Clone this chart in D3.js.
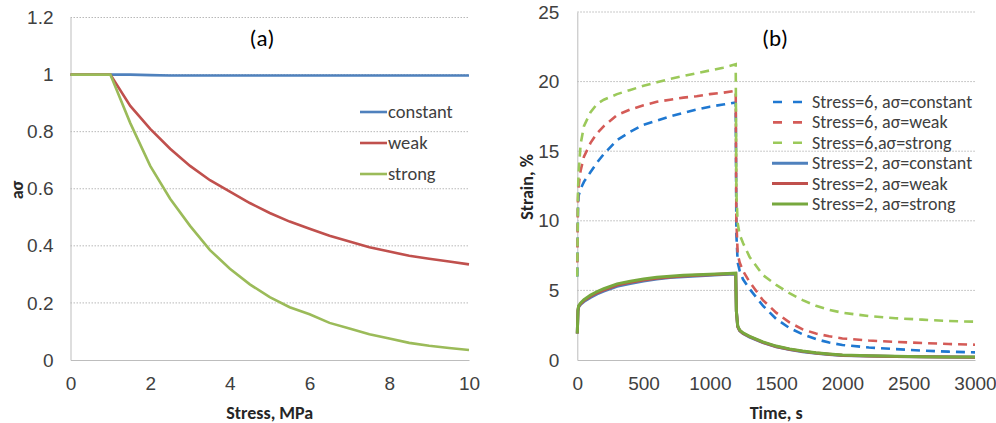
<!DOCTYPE html>
<html>
<head>
<meta charset="utf-8">
<script src="https://cdn.jsdelivr.net/npm/d3@7"></script>
<style>
  body { margin: 0; background: #fff; }
  svg { font-family: Carlito, Calibri, Lato, sans-serif; }
  .grid line { stroke: #b8b8b8; stroke-dasharray: 1.5,1.5; }
  .axis path, .axis line { stroke: #bdbdbd; }
  .axis text { font-size: 19px; fill: #404040; }
</style>
</head>
<body>
<div id="chart"></div>
<script>
// ---- panel (a) data ----
const stress = [0, 0.5, 1, 1.5, 2, 2.5, 3, 3.5, 4, 4.5, 5, 5.5, 6, 6.5, 7, 7.5, 8, 8.5, 9, 9.5, 10];
const aConstant = [1, 1, 1, 1, 0.998, 0.997, 0.997, 0.997, 0.997, 0.997, 0.997, 0.997, 0.997, 0.997, 0.997, 0.997, 0.997, 0.997, 0.997, 0.997, 0.997];
const aWeak = [1, 1, 1, 0.89, 0.81, 0.74, 0.68, 0.63, 0.59, 0.55, 0.515, 0.485, 0.46, 0.435, 0.415, 0.395, 0.38, 0.365, 0.355, 0.345, 0.335];
const aStrong = [1, 1, 1, 0.83, 0.68, 0.565, 0.47, 0.385, 0.32, 0.265, 0.22, 0.185, 0.16, 0.13, 0.11, 0.09, 0.075, 0.06, 0.05, 0.042, 0.035];
const seriesA = ["constant", "weak", "strong"];

// ---- panel (b) data ----
const time = [0, 5, 10, 25, 50, 100, 150, 200, 300, 400, 500, 600, 700, 800, 900, 1000, 1100, 1195,
  1200, 1210, 1225, 1250, 1300, 1400, 1500, 1600, 1700, 1800, 1900, 2000, 2200, 2400, 2600, 2800, 3000];
const s6Constant = [6, 10.8, 11.8, 12.3, 12.8, 13.5, 14.2, 14.8, 15.8, 16.4, 16.9, 17.2, 17.5, 17.75, 18.0, 18.2, 18.35, 18.5,
  9, 7.0, 6.4, 5.8, 5.1, 3.9, 2.95, 2.3, 1.85, 1.5, 1.25, 1.08, 0.9, 0.78, 0.68, 0.6, 0.55];
const s6Weak = [7, 11.5, 12.5, 13.6, 14.6, 15.6, 16.3, 16.8, 17.6, 18.0, 18.3, 18.55, 18.7, 18.85, 18.95, 19.1, 19.2, 19.35,
  10, 7.6, 7.0, 6.4, 5.6, 4.3, 3.4, 2.7, 2.2, 1.9, 1.7, 1.55, 1.4, 1.3, 1.22, 1.15, 1.1];
const s6Strong = [6, 12, 13.5, 15.5, 16.8, 17.8, 18.4, 18.7, 19.1, 19.4, 19.7, 19.95, 20.2, 20.4, 20.6, 20.8, 21.0, 21.25,
  12, 9.8, 9.0, 8.4, 7.4, 6.1, 5.4, 4.8, 4.3, 3.9, 3.6, 3.4, 3.15, 3.0, 2.9, 2.8, 2.75];
const s2Constant = [1.9, 3.5, 3.8, 4.0, 4.2, 4.5, 4.75, 4.95, 5.3, 5.5, 5.68, 5.82, 5.92, 5.98, 6.04, 6.09, 6.14, 6.18,
  3.5, 2.4, 2.1, 1.9, 1.65, 1.25, 0.95, 0.75, 0.6, 0.48, 0.4, 0.33, 0.28, 0.25, 0.23, 0.21, 0.2];
const s2Weak = [1.9, 3.55, 3.85, 4.05, 4.27, 4.58, 4.83, 5.03, 5.38, 5.58, 5.75, 5.88, 5.97, 6.03, 6.08, 6.12, 6.17, 6.21,
  3.5, 2.4, 2.12, 1.92, 1.67, 1.27, 0.97, 0.77, 0.62, 0.5, 0.41, 0.34, 0.29, 0.26, 0.23, 0.21, 0.2];
const s2Strong = [1.9, 3.6, 3.9, 4.1, 4.33, 4.66, 4.92, 5.12, 5.47, 5.66, 5.82, 5.94, 6.02, 6.08, 6.12, 6.16, 6.2, 6.24,
  3.5, 2.45, 2.15, 1.95, 1.7, 1.3, 1.0, 0.8, 0.64, 0.52, 0.43, 0.36, 0.3, 0.27, 0.24, 0.22, 0.21];
const seriesB = ["Stress=6, aσ=constant", "Stress=6, aσ=weak", "Stress=6,aσ=strong",
  "Stress=2, aσ=constant", "Stress=2, aσ=weak", "Stress=2, aσ=strong"];

const width = 996, height = 423;
const svg = d3.select("#chart").append("svg")
  .attr("width", width)
  .attr("height", height);

// draws one panel frame: grid, axes, titles
function panel(opts) {
  const g = svg.append("g");
  const x = d3.scaleLinear().domain(opts.xDomain).range([opts.left, opts.right]);
  const y = d3.scaleLinear().domain(opts.yDomain).range([opts.bottom, opts.top]);

  g.append("g").attr("class", "grid")
    .selectAll("line")
    .data(opts.yTicks.filter(d => d > 0))
    .join("line")
    .attr("x1", opts.left).attr("x2", opts.right)
    .attr("y1", d => y(d)).attr("y2", d => y(d));

  g.append("g").attr("class", "axis")
    .attr("transform", `translate(0,${opts.bottom})`)
    .call(d3.axisBottom(x).tickValues(opts.xTicks).tickSize(0).tickPadding(17).tickFormat(d3.format("d")));

  g.append("g").attr("class", "axis")
    .attr("transform", `translate(${opts.left},0)`)
    .call(d3.axisLeft(y).tickValues(opts.yTicks).tickSize(0).tickPadding(opts.yPad).tickFormat(opts.yFormat));

  g.selectAll(".axis .domain").attr("stroke", "#bdbdbd");

  g.append("text")
    .attr("x", (opts.left + opts.right) / 2)
    .attr("y", 419)
    .attr("text-anchor", "middle")
    .style("font-size", "18px").style("font-weight", "bold").attr("fill", "#262626")
    .text(opts.xTitle);

  g.append("text")
    .attr("transform", `translate(${opts.yTitleX},${opts.yTitleY}) rotate(-90)`)
    .attr("text-anchor", "middle")
    .style("font-size", "18px").style("font-weight", "bold").attr("fill", "#262626")
    .text(opts.yTitle);

  g.append("text")
    .attr("x", opts.labelX).attr("y", 46)
    .attr("text-anchor", "middle")
    .style("font-size", "23px").attr("fill", "#000")
    .text(opts.label);

  return { g, x, y };
}

// ---- panel (a) ----
const pa = panel({
  left: 70.5, right: 469, top: 17.5, bottom: 360,
  xDomain: [0, 10], yDomain: [0, 1.2],
  xTicks: [0, 2, 4, 6, 8, 10], yTicks: [0, 0.2, 0.4, 0.6, 0.8, 1, 1.2],
  yFormat: d => d3.format("")(+d.toFixed(1)), yPad: 17,
  xTitle: "Stress, MPa", yTitle: "aσ", yTitleX: 23, yTitleY: 190,
  label: "(a)", labelX: 262
});

const colorA = ["#4f81bd", "#c0504d", "#9bbb59"];
const valuesA = [aConstant, aWeak, aStrong];
const lineA = d3.line().x((d, i) => pa.x(stress[i])).y(d => pa.y(d));

pa.g.selectAll(".lineA")
  .data(valuesA)
  .join("path")
  .attr("fill", "none")
  .attr("stroke", (d, i) => colorA[i])
  .attr("stroke-width", 2.6)
  .attr("d", lineA);

const legA = pa.g.append("g").attr("transform", "translate(360,112)");
seriesA.forEach(function(d, i) {
  const row = legA.append("g").attr("transform", `translate(0,${i * 31})`);
  row.append("line").attr("x1", 0).attr("x2", 27)
    .attr("stroke", colorA[i]).attr("stroke-width", 2.6);
  row.append("text").attr("x", 28).attr("y", 6)
    .style("font-size", "18.5px").attr("fill", "#404040").text(d);
});

// ---- panel (b) ----
const pb = panel({
  left: 577.3, right: 975, top: 12, bottom: 360,
  xDomain: [0, 3000], yDomain: [0, 25],
  xTicks: [0, 500, 1000, 1500, 2000, 2500, 3000], yTicks: [0, 5, 10, 15, 20, 25],
  yFormat: d3.format("d"), yPad: 18,
  xTitle: "Time, s", yTitle: "Strain, %", yTitleX: 533, yTitleY: 187,
  label: "(b)", labelX: 775
});

const colorB = ["#1f78d1", "#d45b57", "#9bc95a", "#4f81bd", "#c0504d", "#77a83e"];
const dashB = ["9,6", "9,6", "9,6", null, null, null];
const valuesB = [s6Constant, s6Weak, s6Strong, s2Constant, s2Weak, s2Strong];
const lineB = d3.line().x((d, i) => pb.x(time[i])).y(d => pb.y(d));

pb.g.selectAll(".lineB")
  .data(valuesB)
  .join("path")
  .attr("fill", "none")
  .attr("stroke", (d, i) => colorB[i])
  .attr("stroke-width", (d, i) => i < 3 ? 2.6 : 3)
  .attr("stroke-dasharray", (d, i) => dashB[i])
  .attr("d", lineB);

const legB = pb.g.append("g").attr("transform", "translate(773,102)");
seriesB.forEach(function(d, i) {
  const row = legB.append("g").attr("transform", `translate(0,${i * 20.4})`);
  row.append("line").attr("x1", i < 3 ? 0 : -1).attr("x2", i < 3 ? 30 : 35)
    .attr("stroke", colorB[i]).attr("stroke-width", i < 3 ? 2.6 : 3)
    .attr("stroke-dasharray", i < 3 ? "9,11" : null);
  row.append("text").attr("x", 39).attr("y", 6)
    .style("font-size", "18px").attr("fill", "#404040").text(d);
});
</script>
</body>
</html>
